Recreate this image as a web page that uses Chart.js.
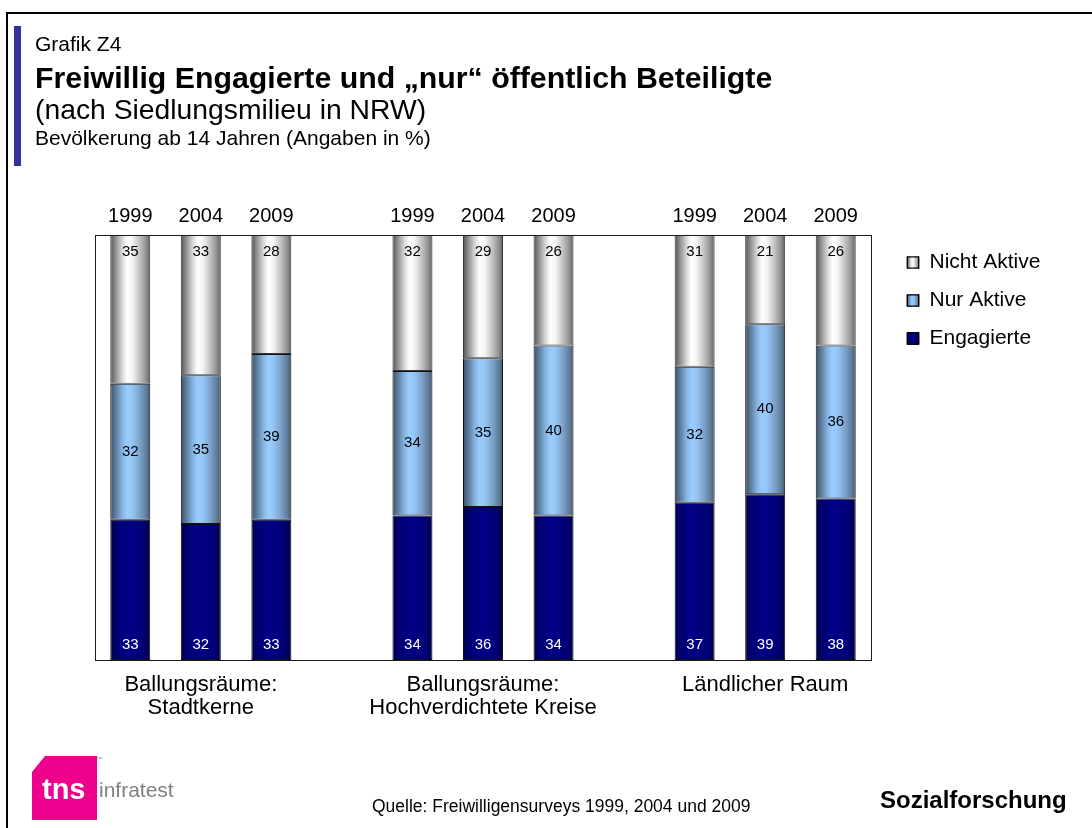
<!DOCTYPE html>
<html lang="de">
<head>
<meta charset="utf-8">
<title>Grafik Z4</title>
<script src="https://cdn.jsdelivr.net/npm/chart.js@4.4.1/dist/chart.umd.min.js"></script>
<style>
  html, body { margin: 0; padding: 0; background: #fff; }
  body { width: 1092px; height: 828px; position: relative; overflow: hidden;
         font-family: "Liberation Sans", Arial, sans-serif; color: #000; }
  #frame-top { position: absolute; left: 6px; top: 12px; width: 1086px; height: 2px; background: #000; }
  #frame-left { position: absolute; left: 6px; top: 12px; width: 2px; height: 816px; background: #000; }
  #accent { position: absolute; left: 14px; top: 26px; width: 7px; height: 140px; background: #33339a; }
  .t { position: absolute; left: 35px; white-space: nowrap; }
  #kicker { top: 32px; font-size: 21px; line-height: 24px; }
  #title { top: 62px; font-size: 30.3px; line-height: 32px; font-weight: bold; }
  #subtitle { top: 94px; font-size: 28.3px; line-height: 30px; }
  #note { top: 126px; font-size: 21px; line-height: 24px; }
  #source { position: absolute; left: 372px; top: 795px; font-size: 17.5px; line-height: 22px; white-space: nowrap; }
  #brand { position: absolute; left: 880px; top: 786px; font-size: 24px; line-height: 28px; font-weight: bold; white-space: nowrap; }
  #logo { position: absolute; left: 30px; top: 752px; }
  #wrap { position: absolute; left: 0; top: 0; width: 1092px; height: 828px; }
</style>
</head>
<body>
<div id="wrap"><canvas id="chart" width="1092" height="828"></canvas></div>
<div id="frame-top"></div>
<div id="frame-left"></div>
<div id="accent"></div>
<div class="t" id="kicker">Grafik Z4</div>
<div class="t" id="title">Freiwillig Engagierte und „nur“ öffentlich Beteiligte</div>
<div class="t" id="subtitle">(nach Siedlungsmilieu in NRW)</div>
<div class="t" id="note">Bevölkerung ab 14 Jahren (Angaben in %)</div>
<svg id="logo" width="150" height="72" viewBox="0 0 150 72">
  <polygon points="15,4 67,4 67,68 2,68 2,20" fill="#ec008c"/>
  <text x="12" y="47" font-family="Liberation Sans, Arial, sans-serif" font-size="29" font-weight="bold" fill="#fff">tns</text>
  <text x="66" y="9" font-family="Liberation Sans, Arial, sans-serif" font-size="6" fill="#888">™</text>
  <text x="69" y="45" font-family="Liberation Sans Narrow, Liberation Sans, Arial, sans-serif" font-size="21" fill="#808080">infratest</text>
</svg>
<div id="source">Quelle: Freiwilligensurveys 1999, 2004 und 2009</div>
<div id="brand">Sozialforschung</div>

<script>
// Survey years and settlement types
const years = ['1999', '2004', '2009'];
const regions = [
  ['Ballungsräume:', 'Stadtkerne'],
  ['Ballungsräume:', 'Hochverdichtete Kreise'],
  ['Ländlicher Raum']
];
const seriesNames = ['Engagierte', 'Nur Aktive', 'Nicht Aktive'];

// Shares in %, ordered region by region, year by year
const engagierte  = [33, 32, 33, 34, 36, 34, 37, 39, 38];
const nurAktive   = [32, 35, 39, 34, 35, 40, 32, 40, 36];
const nichtAktive = [35, 33, 28, 32, 29, 26, 31, 21, 26];

// Each region takes three year slots plus one empty slot as a spacer
const SLOTS_PER_GROUP = years.length + 1;
const slotCount = regions.length * SLOTS_PER_GROUP - 1;
const yearTicks = [];
const regionTicks = [];
for (let s = 0; s < slotCount; s++) {
  const k = s % SLOTS_PER_GROUP;
  yearTicks.push(k < years.length ? years[k] : '');
  regionTicks.push(k === 1 ? regions[Math.floor(s / SLOTS_PER_GROUP)] : '');
}
function toSlots(values) {
  const out = new Array(slotCount).fill(null);
  values.forEach((v, i) => {
    const g = Math.floor(i / years.length), y = i % years.length;
    out[g * SLOTS_PER_GROUP + y] = v;
  });
  return out;
}

const FONT = '"Liberation Sans", Arial, sans-serif';
const BAR_PCT = 0.567;
const PLOT_TOP = 235, PLOT_BOTTOM = 660, PLOT_LEFT = 95, PLOT_RIGHT = 871;

// Cylinder-like horizontal shading for each series
const shades = {
  'Engagierte':   [[0, '#000044'], [0.15, '#000072'], [0.45, '#000088'], [0.8, '#000078'], [1, '#000046']],
  'Nur Aktive':   [[0, '#3a5068'], [0.12, '#5a7796'], [0.3, '#86b4e2'], [0.42, '#99ccff'], [0.55, '#94c5f6'], [0.75, '#7a9fc6'], [0.9, '#5f7c9a'], [1, '#40586f']],
  'Nicht Aktive': [[0, '#505050'], [0.12, '#8a8a8a'], [0.3, '#d8d8d8'], [0.42, '#ffffff'], [0.55, '#f4f4f4'], [0.75, '#bdbdbd'], [0.9, '#8f8f8f'], [1, '#5a5a5a']]
};
const solid = { 'Engagierte': '#000080', 'Nur Aktive': '#99ccff', 'Nicht Aktive': '#dcdcdc' };

function cylinder(name) {
  return (ctx) => {
    const chart = ctx.chart;
    const xs = chart.scales && chart.scales.x;
    if (ctx.type !== 'data' || !xs || !chart.chartArea) return solid[name];
    const cx = xs.getPixelForValue(ctx.dataIndex);
    const half = (xs.getPixelForValue(1) - xs.getPixelForValue(0)) * BAR_PCT / 2;
    const g = chart.ctx.createLinearGradient(cx - half, 0, cx + half, 0);
    shades[name].forEach(([o, c]) => g.addColorStop(o, c));
    return g;
  };
}

const seriesValues = [engagierte, nurAktive, nichtAktive];
const datasets = seriesNames.map((name, i) => ({
  label: name,
  data: toSlots(seriesValues[i]),
  backgroundColor: cylinder(name),
  borderColor: i === 2 ? '#3a3a3a' : '#111',
  borderWidth: 1,
  borderSkipped: false,
  barPercentage: BAR_PCT,
  categoryPercentage: 1
}));

// Frame around the plot area
const plotFrame = {
  id: 'plotFrame',
  afterDatasetsDraw(chart) {
    const { left, top, right, bottom } = chart.chartArea;
    const c = chart.ctx;
    c.save();
    c.strokeStyle = '#1a1a1a';
    c.lineWidth = 1;
    c.strokeRect(Math.round(left) + 0.5, Math.round(top) + 0.5,
                 Math.round(right - left), Math.round(bottom - top));
    c.restore();
  }
};

// Value labels: bottom series at the base, middle series centred, top series at the top
const valueLabels = {
  id: 'valueLabels',
  afterDatasetsDraw(chart) {
    const c = chart.ctx;
    c.save();
    c.font = '15px ' + FONT;
    c.textAlign = 'center';
    c.textBaseline = 'middle';
    chart.data.datasets.forEach((ds, di) => {
      const meta = chart.getDatasetMeta(di);
      meta.data.forEach((bar, idx) => {
        const v = ds.data[idx];
        if (v === null || v === undefined) return;
        let y;
        if (di === 0) { c.fillStyle = '#fff'; y = bar.base - 15; }
        else if (di === 1) { c.fillStyle = '#000'; y = (bar.y + bar.base) / 2; }
        else { c.fillStyle = '#000'; y = bar.y + 17; }
        c.fillText(String(v), bar.x, y);
      });
    });
    c.restore();
  }
};

// Shaded legend swatches
const legendSwatches = {
  id: 'legendSwatches',
  afterDraw(chart) {
    const lg = chart.legend;
    if (!lg || !lg.legendHitBoxes) return;
    const opts = lg.options.labels;
    const fs = opts.font.size, bw = opts.boxWidth, bh = opts.boxHeight;
    const c = chart.ctx;
    c.save();
    lg.legendItems.forEach((item, i) => {
      const hb = lg.legendHitBoxes[i];
      const x = hb.left, y = hb.top + Math.max((fs - bh) / 2, 0);
      const g = c.createLinearGradient(x, 0, x + bw, 0);
      shades[item.text].forEach(([o, col]) => g.addColorStop(o, col));
      c.fillStyle = g;
      c.fillRect(x, y, bw, bh);
      c.strokeStyle = '#000';
      c.lineWidth = 1;
      c.strokeRect(x + 0.5, y + 0.5, bw - 1, bh - 1);
    });
    c.restore();
  }
};

const chart = new Chart(document.getElementById('chart'), {
  type: 'bar',
  data: { datasets },
  options: {
    responsive: false,
    animation: false,
    layout: { padding: { left: PLOT_LEFT, right: 40, top: 0, bottom: 0 } },
    scales: {
      x: {
        type: 'category',
        labels: regionTicks,
        stacked: true,
        offset: true,
        position: 'bottom',
        grid: { display: false, drawTicks: false },
        border: { display: false },
        ticks: { autoSkip: false, maxRotation: 0, padding: 13,
                 color: '#000', font: { family: FONT, size: 22, lineHeight: 1.05 } },
        afterFit: (s) => { s.height = 828 - PLOT_BOTTOM; }
      },
      x2: {
        type: 'category',
        labels: yearTicks,
        offset: true,
        position: 'top',
        grid: { display: false, drawTicks: false },
        border: { display: false },
        ticks: { autoSkip: false, maxRotation: 0, padding: 7,
                 color: '#000', font: { family: FONT, size: 20 } },
        afterFit: (s) => { s.height = PLOT_TOP; }
      },
      y: {
        stacked: true,
        min: 0,
        max: 100,
        display: false
      },
      y2: {
        type: 'linear',
        position: 'right',
        display: true,
        grid: { display: false, drawTicks: false },
        border: { display: false },
        ticks: { display: false },
        afterFit: (s) => { s.width = 19; }
      }
    },
    plugins: {
      legend: {
        position: 'right',
        align: 'start',
        fullSize: false,
        reverse: true,
        labels: {
          boxWidth: 12,
          boxHeight: 12,
          padding: 17,
          color: '#000',
          font: { family: FONT, size: 21 }
        }
      },
      tooltip: { enabled: false }
    }
  },
  plugins: [plotFrame, valueLabels, legendSwatches]
});

// Pin the right edge of the plot area once the legend width is known
const dx = chart.chartArea.right - PLOT_RIGHT;
if (Math.abs(dx) > 0.5) {
  chart.options.layout.padding.right += dx;
  chart.update();
}
</script>
</body>
</html>
